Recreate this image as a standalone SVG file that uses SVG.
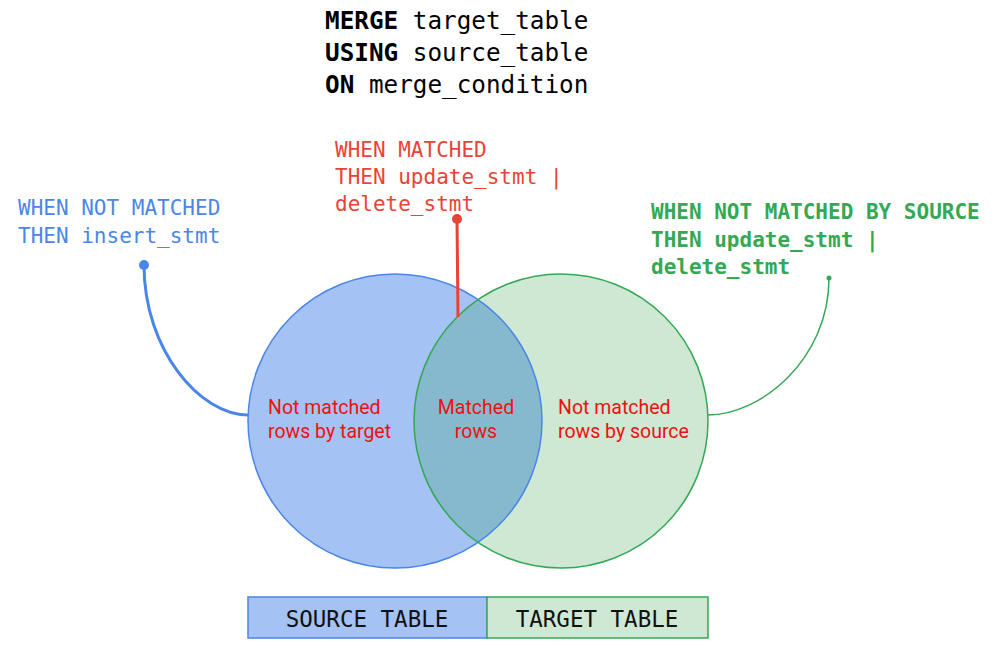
<svg xmlns="http://www.w3.org/2000/svg" width="1000" height="649" viewBox="0 0 1000 649">
<style>
.mono{font-family:"DejaVu Sans Mono","Liberation Mono",monospace;font-size:21px}
.top{font-family:"DejaVu Sans Mono","Liberation Mono",monospace;font-size:24.3px;fill:#000}
.b{font-weight:bold}
.lbl{font-family:Roboto,"Liberation Sans",sans-serif;font-size:19.5px;fill:#f01010}
.leg{font-family:"DejaVu Sans Mono","Liberation Mono",monospace;font-size:22.5px;fill:#111;text-anchor:middle}
</style>
<defs>
<clipPath id="cg"><circle cx="561" cy="421" r="147"/></clipPath>
</defs>
<rect width="1000" height="649" fill="#fff"/>
<g id="header">
<text class="top" x="325" y="29"><tspan class="b">MERGE</tspan> target_table</text>
<text class="top" x="325" y="61"><tspan class="b">USING</tspan> source_table</text>
<text class="top" x="325" y="93"><tspan class="b">ON</tspan> merge_condition</text>
</g>
<g id="source-circle">
<circle cx="395" cy="421" r="147" fill="#a4c2f4"/>
</g>
<g id="target-circle">
<circle cx="561" cy="421" r="147" fill="#cfe8d4"/>
</g>
<g id="intersection">
<circle cx="395" cy="421" r="147" fill="#86b9cd" clip-path="url(#cg)"/>
<circle cx="395" cy="421" r="147" fill="none" stroke="#4a86e8" stroke-width="1.5"/>
<circle cx="561" cy="421" r="147" fill="none" stroke="#34a853" stroke-width="1.5"/>
</g>
<g id="connectors" fill="none">
<path d="M144,265 C144,350 200,415 248,415" stroke="#4a86e8" stroke-width="3"/>
<circle cx="144" cy="265" r="5" fill="#4a86e8"/>
<path d="M457,219 L458,317" stroke="#ea4335" stroke-width="3"/>
<circle cx="457" cy="219" r="5" fill="#ea4335"/>
<path d="M829,278 C829,360 760,415 708,415" stroke="#34a853" stroke-width="1.5"/>
<circle cx="829" cy="278" r="2.5" fill="#34a853"/>
</g>
<g id="label-not-matched">
<text class="mono" x="18" y="215" fill="#4a86e8">WHEN NOT MATCHED</text>
<text class="mono" x="18" y="243" fill="#4a86e8">THEN insert_stmt</text>
</g>
<g id="label-matched">
<text class="mono" x="335" y="157" fill="#ea4335">WHEN MATCHED</text>
<text class="mono" x="335" y="184" fill="#ea4335">THEN update_stmt |</text>
<text class="mono" x="335" y="211" fill="#ea4335">delete_stmt</text>
</g>
<g id="label-not-matched-by-source">
<text class="mono b" x="651" y="219" fill="#34a853">WHEN NOT MATCHED BY SOURCE</text>
<text class="mono b" x="651" y="247" fill="#34a853">THEN update_stmt |</text>
<text class="mono b" x="651" y="274" fill="#34a853">delete_stmt</text>
</g>
<g id="region-labels">
<text class="lbl" x="268" y="414">Not matched</text>
<text class="lbl" x="268" y="438">rows by target</text>
<text class="lbl" x="476" y="414" text-anchor="middle">Matched</text>
<text class="lbl" x="476" y="438" text-anchor="middle">rows</text>
<text class="lbl" x="558" y="414">Not matched</text>
<text class="lbl" x="558" y="438">rows by source</text>
</g>
<g id="legend-source">
<rect x="248" y="597" width="239" height="41" fill="#a4c2f4" stroke="#4a86e8" stroke-width="1.5"/>
<text class="leg" x="367" y="627">SOURCE TABLE</text>
</g>
<g id="legend-target">
<rect x="487" y="597" width="221" height="41" fill="#cfe8d4" stroke="#34a853" stroke-width="1.5"/>
<text class="leg" x="597" y="627">TARGET TABLE</text>
</g>
</svg>
